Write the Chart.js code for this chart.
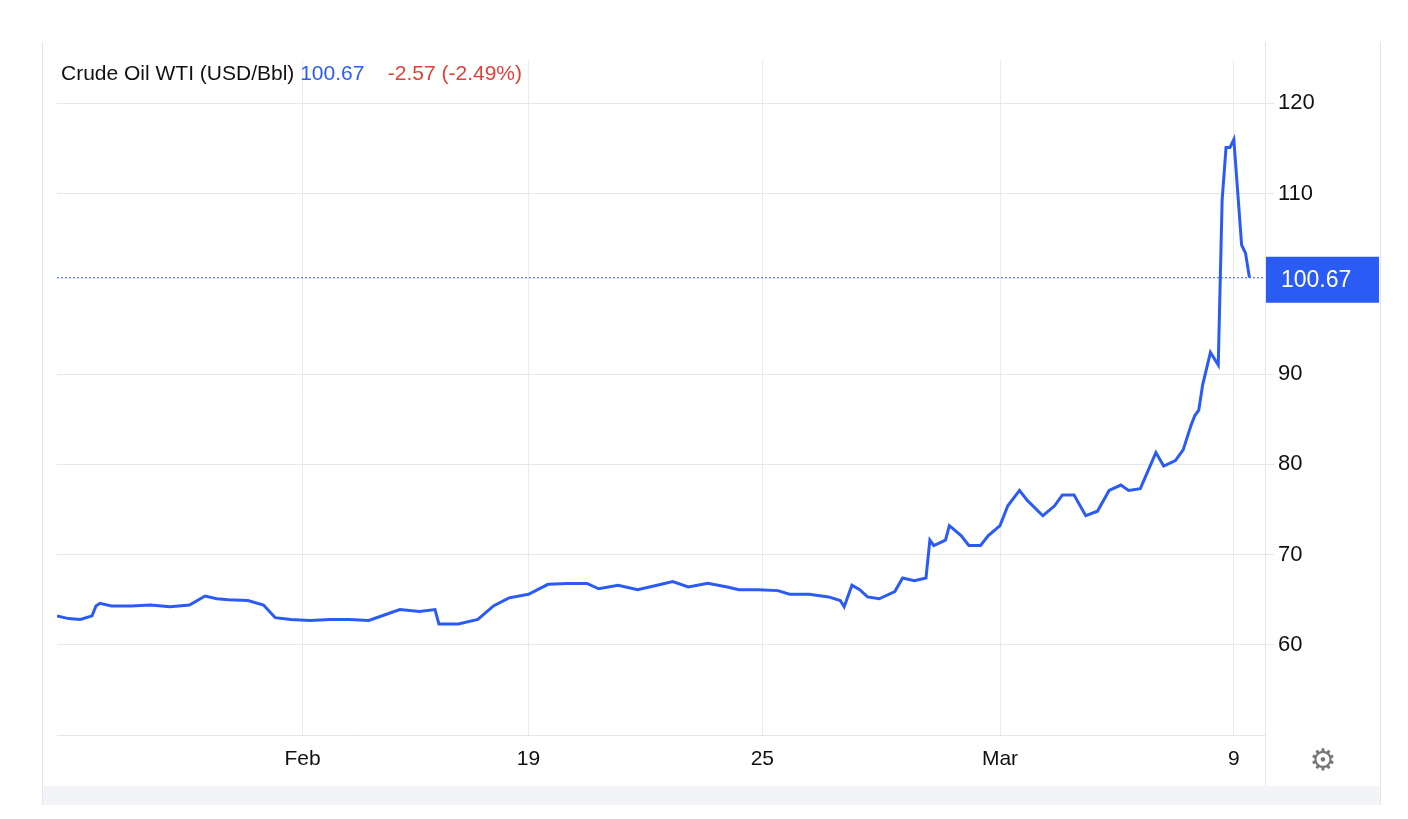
<!DOCTYPE html>
<html>
<head>
<meta charset="utf-8">
<script src="https://cdn.jsdelivr.net/npm/chart.js@4/dist/chart.umd.min.js"></script>
<style>
  html, body { margin: 0; padding: 0; background: #fff; }
  #wrap { width: 1408px; height: 819px; position: relative; }
</style>
</head>
<body>
<div id="wrap"><canvas id="oilChart" width="1408" height="819"></canvas></div>
<script>
// ── data (x = trading-day offset, y = USD/Bbl) ──
const days = [0, 0.3, 0.6, 0.9, 1.0, 1.1, 1.4, 1.9, 2.4, 2.9,
  3.4, 3.8, 4.1, 4.4, 4.9, 5.3, 5.6, 6.0, 6.5, 7.0,
  7.5, 8.0, 8.4, 8.8, 9.3, 9.7, 9.8, 10.3, 10.8, 11.2,
  11.6, 12.1, 12.6, 13.1, 13.6, 13.9, 14.4, 14.9, 15.4, 15.8,
  16.2, 16.7, 17.2, 17.5, 18.0, 18.5, 18.8, 19.3, 19.8, 20.1,
  20.2, 20.4, 20.6, 20.8, 21.1, 21.5, 21.7, 22.0, 22.3, 22.4,
  22.5, 22.8, 22.9, 23.2, 23.4, 23.7, 23.9, 24.2, 24.4, 24.7,
  24.9, 25.3, 25.6, 25.8, 26.1, 26.4, 26.7, 27.0, 27.3, 27.5,
  27.8, 28.0, 28.2, 28.4, 28.7, 28.9, 29.1, 29.2, 29.3, 29.4,
  29.6, 29.8, 29.9, 30.0, 30.1, 30.2, 30.4, 30.5, 30.6];
const prices = [63.2, 62.9, 62.8, 63.2, 64.3, 64.6, 64.3, 64.3, 64.4, 64.2,
  64.4, 65.4, 65.1, 65.0, 64.9, 64.4, 63.0, 62.8, 62.7, 62.8,
  62.8, 62.7, 63.3, 63.9, 63.7, 63.9, 62.3, 62.3, 62.8, 64.3,
  65.2, 65.6, 66.7, 66.8, 66.8, 66.2, 66.6, 66.1, 66.6, 67.0,
  66.4, 66.8, 66.4, 66.1, 66.1, 66.0, 65.6, 65.6, 65.3, 64.9,
  64.2, 66.6, 66.1, 65.3, 65.1, 65.9, 67.4, 67.1, 67.4, 71.6,
  71.0, 71.6, 73.2, 72.1, 71.0, 71.0, 72.1, 73.2, 75.4, 77.1,
  76.0, 74.3, 75.4, 76.6, 76.6, 74.3, 74.8, 77.1, 77.7, 77.1,
  77.3, 79.3, 81.3, 79.8, 80.4, 81.6, 84.3, 85.4, 86.0, 88.8,
  92.4, 91.0, 109.3, 115.1, 115.1, 116.0, 104.3, 103.4, 100.7];
const tickDays = [6.3, 12.1, 18.1, 24.2, 30.2];
const tickLabels = ['Feb', '19', '25', 'Mar', '9'];
const yTicks = [60, 70, 80, 90, 110, 120];
const lastPrice = 100.67;

const FONT = '"Liberation Sans", Arial, sans-serif';
const BLUE = '#2b5bf5';

const overlay = {
  id: 'overlay',
  beforeDraw(chart) {
    const { ctx } = chart;
    ctx.save();
    ctx.strokeStyle = '#e3e5ea';
    ctx.lineWidth = 1;
    ctx.beginPath();
    ctx.moveTo(42.5, 42); ctx.lineTo(42.5, 805);
    ctx.moveTo(1380.5, 42); ctx.lineTo(1380.5, 805);
    ctx.stroke();
    ctx.fillStyle = '#f3f4f7';
    ctx.fillRect(43, 786, 1337, 19);
    ctx.restore();
  },
  afterDraw(chart) {
    const { ctx, chartArea, scales } = chart;
    const y = scales.y.getPixelForValue(lastPrice);
    ctx.save();
    // right axis border
    ctx.strokeStyle = '#e3e5ea';
    ctx.beginPath();
    ctx.moveTo(chartArea.right + 0.5, 42); ctx.lineTo(chartArea.right + 0.5, 786);
    ctx.stroke();
    // dotted last price line
    ctx.strokeStyle = BLUE;
    ctx.setLineDash([2, 2]);
    ctx.beginPath();
    ctx.moveTo(chartArea.left, y); ctx.lineTo(chartArea.right, y);
    ctx.stroke();
    ctx.setLineDash([]);
    // price badge
    ctx.fillStyle = BLUE;
    ctx.fillRect(chartArea.right + 1, y - 21, 113, 46);
    ctx.fillStyle = '#fff';
    ctx.font = '23px ' + FONT;
    ctx.textBaseline = 'middle';
    ctx.fillText(lastPrice.toFixed(2), chartArea.right + 16, y + 3);
    // header
    ctx.font = '21px ' + FONT;
    ctx.textBaseline = 'alphabetic';
    let x = 61;
    const parts = [['Crude Oil WTI (USD/Bbl) ', '#111'], ['100.67', BLUE], ['    -2.57 (-2.49%)', '#e0413a']];
    parts.forEach(([t, c]) => {
      ctx.fillStyle = c;
      ctx.fillText(t, x, 80);
      x += ctx.measureText(t).width;
    });
    // gear
    ctx.fillStyle = '#777';
    ctx.font = '30px "DejaVu Sans"';
    ctx.textAlign = 'center';
    ctx.textBaseline = 'middle';
    ctx.fillText('⚙', 1323, 762);
    ctx.restore();
  }
};

new Chart(document.getElementById('oilChart'), {
  type: 'line',
  data: {
    datasets: [{
      data: days.map((d, i) => ({ x: d, y: prices[i] })),
      borderColor: BLUE,
      borderWidth: 3,
      pointRadius: 0,
      tension: 0,
      fill: false
    }]
  },
  options: {
    responsive: false,
    animation: false,
    layout: { padding: { left: 57, top: 60, right: 28, bottom: 34 } },
    plugins: { legend: { display: false }, tooltip: { enabled: false } },
    scales: {
      x: {
        type: 'linear',
        min: 0,
        max: 31.0,
        afterBuildTicks: s => { s.ticks = tickDays.map(v => ({ value: v })); },
        afterFit: s => { s.height = 50; },
        ticks: {
          callback: (v) => tickLabels[tickDays.indexOf(v)] || '',
          color: '#111',
          font: { family: FONT, size: 21 },
          padding: 12,
          maxRotation: 0
        },
        grid: { color: '#e9ebf0', drawTicks: false },
        border: { color: '#e3e5ea' }
      },
      y: {
        position: 'right',
        min: 50,
        max: 124.8,
        afterBuildTicks: s => { s.ticks = yTicks.map(v => ({ value: v })); },
        afterFit: s => { s.width = 115; },
        ticks: {
          color: '#111',
          font: { family: FONT, size: 22 },
          padding: 4
        },
        grid: { color: '#e6e7eb', tickLength: 9 },
        border: { display: false }
      }
    }
  },
  plugins: [overlay]
});
</script>
</body>
</html>
